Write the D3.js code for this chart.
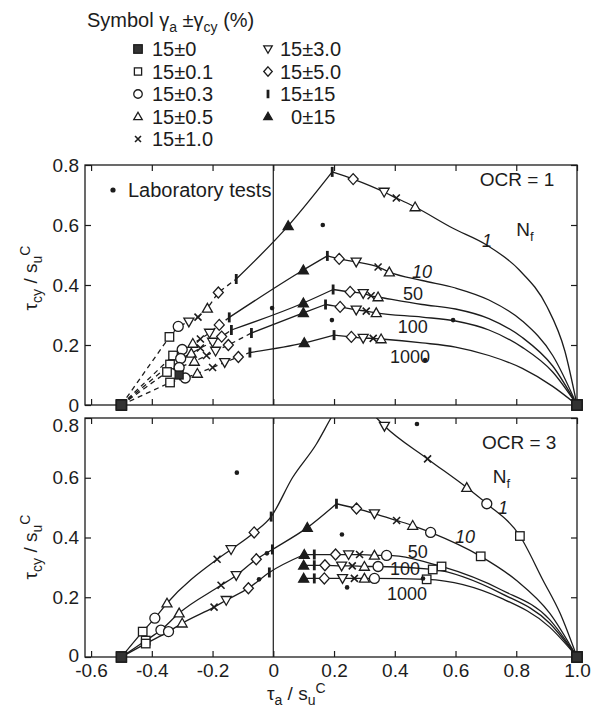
<!DOCTYPE html>
<html>
<head>
<meta charset="utf-8">
<script src="https://cdn.jsdelivr.net/npm/d3@7"></script>
<style>
    body { margin: 0; background: #fff; }
    svg text { font-family: "Liberation Sans", Arial, Helvetica, sans-serif; fill: #1c1c1c; }
</style>
</head>
<body>
<svg id="chart" width="599" height="712"></svg>
<script>
// --- Data ---
const xTicks = [-0.6, -0.4, -0.2, 0, 0.2, 0.4, 0.6, 0.8, 1.0];
const yTicks = [0, 0.2, 0.4, 0.6, 0.8];

const legendKeys = ['fsq', 'sq', 'ci', 'tu', 'x', 'td', 'di', 'bar', 'ft'];
const legendNames = ['15±0', '15±0.1', '15±0.3', '15±0.5', '15±1.0', '15±3.0', '15±5.0', '15±15', '\u20070±15'];

const nfLevels = ['1', '10', '50', '100', '1000'];

// OCR = 1 : [tau_a/su, tau_cy/su, symbol]
const ocr1Nf1 = [
    [-0.5, 0, 'fsq'], [-0.342, 0.227, 'sq'], [-0.313, 0.262, 'ci'], [-0.278, 0.277, 'td'],
    [-0.248, 0.293, 'x'], [-0.217, 0.322, 'tu'], [-0.181, 0.375, 'di'], [-0.122, 0.42, 'bar'],
    [0.049, 0.597, 'ft'], [0.194, 0.777, 'bar'], [0.263, 0.753, 'di'], [0.365, 0.71, 'td'],
    [0.405, 0.69, 'x'], [0.467, 0.66, 'tu'], [0.59, 0.59, null], [0.70, 0.535, null],
    [0.81, 0.45, null], [0.90, 0.33, null], [0.96, 0.18, null], [1.0, 0, 'fsq']
];
const ocr1Nf10 = [
    [-0.5, 0, 'fsq'], [-0.33, 0.165, 'sq'], [-0.3, 0.185, 'ci'], [-0.265, 0.205, 'tu'],
    [-0.24, 0.22, 'x'], [-0.21, 0.24, 'td'], [-0.178, 0.267, 'di'], [-0.145, 0.292, 'bar'],
    [0.099, 0.45, 'ft'], [0.178, 0.497, 'bar'], [0.217, 0.487, 'di'], [0.273, 0.477, 'td'],
    [0.345, 0.46, 'x'], [0.382, 0.443, 'tu'], [0.49, 0.415, null], [0.6, 0.39, null],
    [0.71, 0.35, null], [0.82, 0.28, null], [0.92, 0.165, null], [1.0, 0, 'fsq']
];
const ocr1Nf50 = [
    [-0.5, 0, 'fsq'], [-0.34, 0.135, 'sq'], [-0.305, 0.155, 'ci'], [-0.27, 0.172, 'tu'],
    [-0.24, 0.19, 'x'], [-0.2, 0.21, 'td'], [-0.17, 0.228, 'di'], [-0.138, 0.25, 'bar'],
    [0.099, 0.34, 'ft'], [0.197, 0.385, 'bar'], [0.253, 0.377, 'di'], [0.296, 0.372, 'td'],
    [0.322, 0.364, 'x'], [0.345, 0.36, 'tu'], [0.49, 0.335, null], [0.6, 0.32, null],
    [0.71, 0.288, null], [0.82, 0.225, null], [0.92, 0.13, null], [1.0, 0, 'fsq']
];
const ocr1Nf100 = [
    [-0.5, 0, 'fsq'], [-0.35, 0.11, 'sq'], [-0.31, 0.125, 'ci'], [-0.26, 0.145, 'tu'],
    [-0.22, 0.165, 'x'], [-0.19, 0.18, 'td'], [-0.148, 0.2, 'di'], [-0.072, 0.24, 'bar'],
    [0.099, 0.307, 'ft'], [0.172, 0.335, 'bar'], [0.22, 0.327, 'di'], [0.273, 0.317, 'td'],
    [0.306, 0.313, 'x'], [0.339, 0.307, 'tu'], [0.49, 0.293, null], [0.6, 0.28, null],
    [0.71, 0.25, null], [0.82, 0.192, null], [0.92, 0.11, null], [1.0, 0, 'fsq']
];
const ocr1Nf1000 = [
    [-0.5, 0, 'fsq'], [-0.34, 0.075, 'sq'], [-0.29, 0.09, 'ci'], [-0.25, 0.105, 'tu'],
    [-0.2, 0.125, 'x'], [-0.16, 0.142, 'td'], [-0.115, 0.16, 'di'], [-0.077, 0.175, 'bar'],
    [0.102, 0.207, 'ft'], [0.2, 0.233, 'bar'], [0.257, 0.227, 'di'], [0.296, 0.223, 'td'],
    [0.329, 0.222, 'x'], [0.355, 0.22, 'tu'], [0.49, 0.207, null], [0.6, 0.193, null],
    [0.71, 0.165, null], [0.82, 0.122, null], [0.92, 0.062, null], [1.0, 0, 'fsq']
];
const ocr1Dots = [[-0.004, 0.323], [0.163, 0.6], [0.193, 0.283], [0.592, 0.283], [0.5, 0.15]];
const ocr1Extra = [[-0.31, 0.1, 'fsq']];

// OCR = 3
const ocr3Nf1 = [
    [-0.5, 0, 'fsq'], [-0.43, 0.085, 'sq'], [-0.39, 0.13, 'ci'], [-0.35, 0.18, 'tu'],
    [-0.185, 0.327, 'x'], [-0.139, 0.36, 'td'], [-0.063, 0.417, 'di'], [-0.007, 0.47, 'bar'],
    [0.063, 0.6, null], [0.142, 0.713, null], [0.19, 0.8, null], [0.246, 0.895, null],
    [0.328, 0.813, null], [0.366, 0.773, 'td'], [0.508, 0.663, 'x'], [0.637, 0.567, 'tu'],
    [0.703, 0.513, 'ci'], [0.812, 0.405, 'sq'], [0.888, 0.257, null], [0.944, 0.147, null],
    [1.0, 0, 'fsq']
];
const ocr3Nf10 = [
    [-0.5, 0, 'fsq'], [-0.42, 0.055, 'sq'], [-0.37, 0.09, 'ci'], [-0.31, 0.147, 'tu'],
    [-0.172, 0.24, 'x'], [-0.122, 0.273, 'td'], [-0.056, 0.327, 'di'], [-0.003, 0.36, 'bar'],
    [0.112, 0.433, 'ft'], [0.208, 0.513, 'bar'], [0.274, 0.497, 'di'], [0.333, 0.48, 'td'],
    [0.406, 0.457, 'x'], [0.459, 0.44, 'tu'], [0.518, 0.417, 'ci'], [0.683, 0.337, 'sq'],
    [0.8, 0.257, null], [0.91, 0.147, null], [1.0, 0, 'fsq']
];
const ocr3Nf50 = [
    [-0.5, 0, 'fsq'], [-0.42, 0.045, 'sq'], [-0.345, 0.085, 'ci'], [-0.3, 0.113, 'tu'],
    [-0.195, 0.167, 'x'], [-0.155, 0.19, 'td'], [-0.082, 0.23, 'di'], [-0.013, 0.283, 'bar'],
    [0.102, 0.343, 'ft'], [0.135, 0.343, 'bar'], [0.205, 0.343, 'di'], [0.248, 0.343, 'td'],
    [0.284, 0.343, 'x'], [0.333, 0.34, 'tu'], [0.373, 0.34, 'ci'], [0.554, 0.303, 'sq'],
    [0.75, 0.225, null], [0.91, 0.125, null], [1.0, 0, 'fsq']
];
const ocr3Nf100 = [
    [0.1, 0.307, 'ft'], [0.135, 0.307, 'bar'], [0.17, 0.307, 'di'], [0.225, 0.305, 'td'],
    [0.26, 0.305, 'x'], [0.3, 0.303, 'tu'], [0.345, 0.303, 'ci'], [0.525, 0.293, 'sq'],
    [0.75, 0.213, null], [0.91, 0.113, null], [1.0, 0, 'fsq']
];
const ocr3Nf1000 = [
    [0.1, 0.263, 'ft'], [0.135, 0.263, 'bar'], [0.168, 0.263, 'di'], [0.228, 0.263, 'td'],
    [0.267, 0.263, 'x'], [0.3, 0.263, 'tu'], [0.333, 0.263, 'ci'], [0.505, 0.26, 'sq'],
    [0.75, 0.197, null], [0.91, 0.1, null], [1.0, 0, 'fsq']
];
const ocr3Dots = [[-0.12, 0.617], [0.226, 0.41], [0.243, 0.233], [0.473, 0.78], [0.493, 0.263],
    [-0.021, 0.347], [-0.047, 0.26]];

// --- Layout ---
const ink = '#1c1c1c';
const svg = d3.select('#chart');
const x = d3.scaleLinear().domain([-0.62, 1.0]).range([85, 577]);

const panels = [
    {
        y: d3.scaleLinear().domain([0, 0.8]).range([405, 165]),
        curves: [ocr1Nf1, ocr1Nf10, ocr1Nf50, ocr1Nf100, ocr1Nf1000],
        dots: ocr1Dots, extra: ocr1Extra, dashed: true, xLabels: false,
        ocr: 'OCR = 1', ocrAt: [0.68, 0.73], nfAt: [0.80, 0.563],
        labelAt: [[0.687, 0.527], [0.457, 0.423], [0.427, 0.35], [0.41, 0.24], [0.384, 0.14]],
        titleY: 278
    },
    {
        y: d3.scaleLinear().domain([0, 0.8]).range([657, 418]),
        curves: [ocr3Nf1, ocr3Nf10, ocr3Nf50, ocr3Nf100, ocr3Nf1000],
        dots: ocr3Dots, extra: [], dashed: false, xLabels: true,
        ocr: 'OCR = 3', ocrAt: [0.687, 0.697], nfAt: [0.723, 0.583],
        labelAt: [[0.74, 0.48], [0.598, 0.383], [0.443, 0.333], [0.384, 0.273], [0.374, 0.19]],
        titleY: 547
    }
];

const fmtX = d => d === 0 ? '0' : d.toFixed(1);
const fmtY = d => d === 0 ? '0' : d.toFixed(1);

function drawSymbol(sel, key, cx, cy, s) {
    const g = sel.append('g')
        .attr('transform', `translate(${cx},${cy})`)
        .attr('stroke', ink).attr('stroke-width', 1.3).attr('fill', '#fff');
    const h = s / 2;
    if (key === 'fsq') {
        g.append('rect').attr('x', -h).attr('y', -h).attr('width', s).attr('height', s).attr('fill', '#333');
    } else if (key === 'sq') {
        const q = h * 0.85;
        g.append('rect').attr('x', -q).attr('y', -q).attr('width', 2 * q).attr('height', 2 * q);
    } else if (key === 'ci') {
        g.append('circle').attr('r', h);
    } else if (key === 'tu' || key === 'ft') {
        g.append('path').attr('d', `M0,${-h}L${h},${h * 0.75}L${-h},${h * 0.75}Z`)
            .attr('fill', key === 'ft' ? ink : '#fff');
    } else if (key === 'td') {
        g.append('path').attr('d', `M0,${h}L${h},${-h * 0.75}L${-h},${-h * 0.75}Z`);
    } else if (key === 'di') {
        g.append('path').attr('d', `M0,${-h * 1.1}L${h},0L0,${h * 1.1}L${-h},0Z`);
    } else if (key === 'x') {
        const q = h * 0.7;
        g.append('path').attr('d', `M${-q},${-q}L${q},${q}M${q},${-q}L${-q},${q}`)
            .attr('fill', 'none').attr('stroke-width', 1.6);
    } else if (key === 'bar') {
        g.append('rect').attr('x', -1.4).attr('y', -h).attr('width', 2.8).attr('height', s)
            .attr('fill', ink).attr('stroke', 'none');
    }
}

function styleAxis(g) {
    g.select('.domain').remove();
    g.attr('font-family', null).attr('font-size', 19).style('color', ink);
    g.selectAll('.tick line').attr('stroke-width', 1.2);
}

panels.forEach((p, i) => {
    const [yb, yt] = p.y.range();
    const g = svg.append('g');

    svg.append('clipPath').attr('id', 'clip' + i)
        .append('rect').attr('x', 85).attr('y', yt).attr('width', 492).attr('height', yb - yt);

    // ticks, all pointing inwards
    g.append('g').attr('transform', `translate(0,${yb})`)
        .call(d3.axisBottom(x).tickValues(xTicks).tickSize(-6).tickPadding(7)
            .tickFormat(p.xLabels ? fmtX : () => ''))
        .call(styleAxis);
    g.append('g').attr('transform', `translate(0,${yt})`)
        .call(d3.axisTop(x).tickValues(xTicks).tickSize(-6).tickFormat(() => ''))
        .call(styleAxis);
    const left = g.append('g').attr('transform', 'translate(85,0)')
        .call(d3.axisLeft(p.y).tickValues(yTicks).tickSize(-6).tickPadding(6).tickFormat(fmtY))
        .call(styleAxis);
    if (i === 1) {
        left.selectAll('.tick text').filter(d => d === 0.8).attr('transform', 'translate(0,7)');
        left.selectAll('.tick text').filter(d => d === 0).attr('transform', 'translate(0,-2)');
    }
    g.append('g').attr('transform', 'translate(577,0)')
        .call(d3.axisRight(p.y).tickValues(yTicks).tickSize(-6).tickFormat(() => ''))
        .call(styleAxis);

    // frame and the zero line
    g.append('rect').attr('x', 85).attr('y', yt).attr('width', 492).attr('height', yb - yt)
        .attr('fill', 'none').attr('stroke', ink).attr('stroke-width', 1.3);
    g.append('line').attr('x1', x(0)).attr('x2', x(0)).attr('y1', yt).attr('y2', yb)
        .attr('stroke', ink).attr('stroke-width', 1.2);

    // curves
    const line = d3.line().x(d => x(d[0])).y(d => p.y(d[1])).curve(d3.curveMonotoneX);
    const lines = g.append('g').attr('clip-path', `url(#clip${i})`)
        .attr('fill', 'none').attr('stroke', ink).attr('stroke-width', 1.3);
    p.curves.forEach(pts => {
        const peak = d3.maxIndex(pts, d => d[1]);
        let start = 0;
        if (p.dashed) {
            const bar = pts.findIndex(d => d[2] === 'bar');
            lines.append('path').attr('d', d3.line().x(d => x(d[0])).y(d => p.y(d[1]))(pts.slice(0, bar + 1)))
                .attr('stroke-dasharray', '5,4');
            start = bar;
        }
        if (peak > start) lines.append('path').attr('d', line(pts.slice(start, peak + 1)));
        lines.append('path').attr('d', line(pts.slice(peak)));
    });

    // symbols
    const sym = g.append('g');
    p.curves.forEach(pts => {
        pts.filter(d => d[2]).forEach(d => drawSymbol(sym, d[2], x(d[0]), p.y(d[1]), 10));
    });
    p.extra.forEach(d => drawSymbol(sym, d[2], x(d[0]), p.y(d[1]), 8));

    // laboratory tests
    g.append('g').selectAll('circle').data(p.dots).join('circle')
        .attr('cx', d => x(d[0])).attr('cy', d => p.y(d[1])).attr('r', 2.3).attr('fill', ink);

    // annotations
    g.append('text').attr('x', x(p.ocrAt[0])).attr('y', p.y(p.ocrAt[1])).attr('font-size', 19).text(p.ocr);
    const nf = g.append('text').attr('x', x(p.nfAt[0])).attr('y', p.y(p.nfAt[1])).attr('font-size', 19);
    nf.append('tspan').text('N');
    nf.append('tspan').attr('font-size', 13).attr('dy', 5).text('f');
    g.selectAll('.nf-label').data(nfLevels).join('text')
        .attr('class', 'nf-label')
        .attr('x', (d, k) => x(p.labelAt[k][0])).attr('y', (d, k) => p.y(p.labelAt[k][1]))
        .attr('font-size', 18)
        .attr('font-style', d => d === '1' || d === '10' ? 'italic' : 'normal')
        .text(d => d);

    // y title
    const yt2 = g.append('text').attr('transform', `translate(37,${p.titleY}) rotate(-90)`)
        .attr('text-anchor', 'middle').attr('font-size', 19);
    yt2.append('tspan').text('τ');
    yt2.append('tspan').attr('font-size', 14).attr('dy', 5).text('cy');
    yt2.append('tspan').attr('dy', -5).text(' / s');
    yt2.append('tspan').attr('font-size', 14).attr('dy', 5).text('u');
    yt2.append('tspan').attr('font-size', 14).attr('dy', -12).text('C');
});

// x title
const xt = svg.append('text').attr('x', 267).attr('y', 700).attr('font-size', 19);
xt.append('tspan').text('τ');
xt.append('tspan').attr('font-size', 14).attr('dy', 5).text('a');
xt.append('tspan').attr('dy', -5).text(' / s');
xt.append('tspan').attr('font-size', 14).attr('dy', 5).text('u');
xt.append('tspan').attr('font-size', 14).attr('dy', -12).text('C');

// --- Legend ---
const lg = svg.append('g');
const title = lg.append('text').attr('x', 87).attr('y', 27).attr('font-size', 20);
title.append('tspan').text('Symbol γ');
title.append('tspan').attr('font-size', 14).attr('dy', 5).text('a');
title.append('tspan').attr('dy', -5).text(' ±γ');
title.append('tspan').attr('font-size', 14).attr('dy', 5).text('cy');
title.append('tspan').attr('dy', -5).text(' (%)');

legendKeys.forEach((k, j) => {
    const col = j < 5 ? 0 : 1;
    const row = j < 5 ? j : j - 5;
    const cy = 49 + row * 22.5;
    drawSymbol(lg, k, col === 0 ? 138 : 268, cy, 8.5);
    lg.append('text').attr('x', col === 0 ? 152 : 280).attr('y', cy + 7)
        .attr('font-size', 20).text(legendNames[j]);
});

lg.append('circle').attr('cx', 113).attr('cy', 190).attr('r', 2.6).attr('fill', ink);
lg.append('text').attr('x', 128).attr('y', 197).attr('font-size', 20).text('Laboratory tests');
</script>
</body>
</html>
